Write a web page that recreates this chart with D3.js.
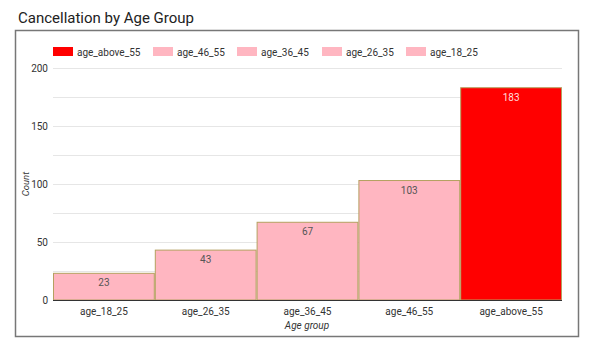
<!DOCTYPE html>
<html><head><meta charset="utf-8">
<script src="https://cdn.jsdelivr.net/npm/d3@7"></script>
<style>body{margin:0;background:#fff;font-family:Roboto,sans-serif;}</style>
</head><body><svg id="c" width="600" height="355"></svg>
<script>
const categories = ["age_18_25","age_26_35","age_36_45","age_46_55","age_above_55"];
const counts = [23, 43, 67, 103, 183];
const legendOrder = ["age_above_55","age_46_55","age_36_45","age_26_35","age_18_25"];
const yTicks = [0, 50, 100, 150, 200];
const gridTicks = [0,25,50,75,100,125,150,175,200];

const svg = d3.select("#c");
const color = c => c === "age_above_55" ? "#ff0000" : "#ffb6c1";

svg.append("text").attr("x",18).attr("y",23).attr("font-size",15).attr("fill","#222").text("Cancellation by Age Group");
svg.append("rect").attr("x",15.5).attr("y",30.5).attr("width",563).attr("height",306).attr("fill","none").attr("stroke","#777").attr("stroke-width",1.5);

const x = d3.scaleBand().domain(categories).range([53,562]).padding(0);
const y = d3.scaleLinear().domain([0,200]).range([300,68]);

svg.append("g").selectAll("line").data(gridTicks).join("line")
  .attr("x1",53).attr("x2",562).attr("y1",d=>y(d)+0.5).attr("y2",d=>y(d)+0.5)
  .attr("stroke","#e6e6e6").attr("stroke-width",1);

const yAxis = svg.append("g").attr("transform","translate(53,0)")
  .call(d3.axisLeft(y).tickValues(yTicks).tickSize(0).tickPadding(5));
yAxis.select(".domain").remove();
yAxis.selectAll("text").attr("font-size",10).attr("fill","#333").attr("font-family","Roboto,sans-serif");

svg.append("g").selectAll("rect").data(categories).join("rect")
  .attr("x",d=>x(d)+0.5).attr("width",x.bandwidth()-1)
  .attr("y",(d,i)=>y(counts[i])).attr("height",(d,i)=>y(0)-y(counts[i]))
  .attr("fill",d=>color(d)).attr("stroke","#b5a060").attr("stroke-width",1);

svg.append("g").selectAll("text").data(categories).join("text")
  .attr("x",d=>x(d)+x.bandwidth()/2).attr("y",(d,i)=>y(counts[i])+13)
  .attr("text-anchor","middle").attr("font-size",10)
  .attr("fill",d=>d==="age_above_55"?"#ffdede":"#555")
  .text((d,i)=>counts[i]);

svg.append("line").attr("x1",53).attr("x2",562).attr("y1",300.5).attr("y2",300.5).attr("stroke","#333").attr("stroke-width",1.2);

const xAxis = svg.append("g").attr("transform","translate(0,300)")
  .call(d3.axisBottom(x).tickSize(0).tickPadding(8));
xAxis.select(".domain").remove();
xAxis.selectAll("text").attr("font-size",10).attr("fill","#333").attr("font-family","Roboto,sans-serif");

svg.append("text").attr("x",307).attr("y",329).attr("text-anchor","middle").attr("font-size",10)
  .attr("font-style","italic").attr("fill","#333").text("Age group");
svg.append("text").attr("transform","translate(29,184) rotate(-90)").attr("text-anchor","middle")
  .attr("font-size",9.5).attr("font-style","italic").attr("fill","#333").text("Count");

const legX = [53,153,237,322,406];
const leg = svg.append("g").selectAll("g").data(legendOrder).join("g")
  .attr("transform",(d,i)=>`translate(${legX[i]},47)`);
leg.append("rect").attr("width",20).attr("height",9).attr("fill",d=>color(d));
leg.append("text").attr("x",24).attr("y",8.5).attr("font-size",10).attr("fill","#333").text(d=>d);
</script></body></html>
